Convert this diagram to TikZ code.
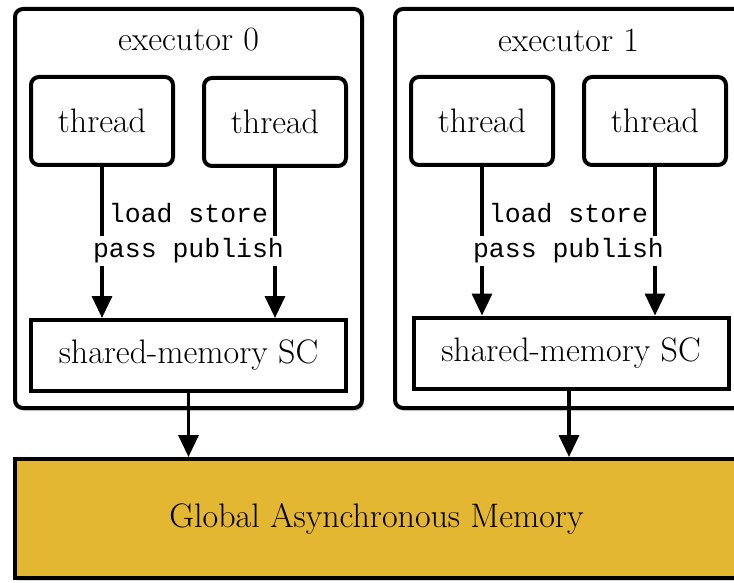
\documentclass[tikz,border=0pt]{standalone}
\usepackage{fontspec}
\setmonofont{Liberation Mono}
\usepackage{tikz}
\usetikzlibrary{arrows.meta,positioning,shadows}

\begin{document}
\begin{tikzpicture}[x=1pt, y=-1pt, line width=4pt,
    every node/.style={font=\fontsize{34}{40}\selectfont, inner sep=0pt},
    execbox/.style={draw, rounded corners=8pt, fill=white, minimum width=347pt, minimum height=399pt,
        drop shadow={opacity=0.3, shadow xshift=2pt, shadow yshift=-3pt}},
    threadbox/.style={draw, rounded corners=8pt, fill=white, minimum width=142pt, minimum height=88pt},
    scbox/.style={draw, fill=white, minimum width=315pt, minimum height=71pt},
    optext/.style={font=\fontsize{26.5}{30}\ttfamily},
    flow/.style={line width=3.4pt, -{Triangle[length=22pt, width=20pt]}}]
    \useasboundingbox (0,0) rectangle (734,583);
    \definecolor{memgold}{HTML}{E3B731}

    % executors
    \node[execbox] (ex0) at (188.5,208.5) {};
    \node[execbox] (ex1) at (568.5,208.5) {};
    \node (ex0title) at ([yshift=-33pt]ex0.north) {executor 0};
    \node (ex1title) at ([yshift=-33pt]ex1.north) {executor 1};

    \node[threadbox] (th0a) at (102,121) {thread};
    \node[threadbox] (th0b) at (275,122) {thread};
    \node[threadbox] (th1a) at (482,121) {thread};
    \node[threadbox] (th1b) at (655,121) {thread};

    \node[scbox] (sc0) at (188.5,355.5) {shared-memory SC};
    \node[scbox] (sc1) at (571,353) {shared-memory SC};

    % global memory
    \node[draw, fill=memgold, minimum width=723pt, minimum height=119pt,
        drop shadow={opacity=0.3, shadow xshift=2pt, shadow yshift=-3pt}] (mem) at (376.5,518.5) {};
    \node (memtext) at (mem.center) {Global Asynchronous Memory};

    % per-thread flows
    \draw[flow] (th0a) -- (th0a |- sc0.north);
    \draw[flow] (th0b) -- (th0b |- sc0.north);
    \draw[flow] (th1a) -- (th1a |- sc1.north);
    \draw[flow] (th1b) -- (th1b |- sc1.north);
    \node[optext] (ls0) at (188.5,213) {load store};
    \node[optext, fill=white, inner ysep=3pt] (pp0) at (188.5,251) {pass publish};
    \node[optext] (ls1) at (568.5,213) {load store};
    \node[optext, fill=white, inner ysep=3pt] (pp1) at (568.5,251) {pass publish};

    \draw[flow] (sc0) -- (sc0 |- mem.north);
    \draw[flow] ([xshift=-2pt]sc1.south) -- ([xshift=-2pt]sc1.south |- mem.north);
\end{tikzpicture}
\end{document}
